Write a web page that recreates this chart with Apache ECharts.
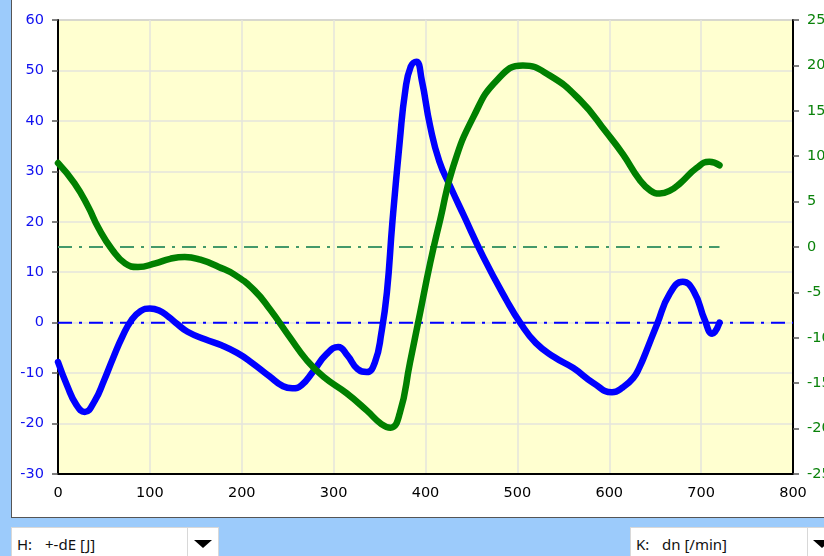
<!DOCTYPE html>
<html>
<head>
<meta charset="utf-8">
<script src="https://cdn.jsdelivr.net/npm/echarts@6/dist/echarts.min.js"></script>
<style>
  html, body { margin: 0; padding: 0; width: 824px; height: 556px; overflow: hidden; background: #9ccbfb; }
  #panel { position: absolute; left: 11px; top: 0; width: 820px; height: 517px; background: #fff; border-left: 1px solid #555; border-bottom: 1px solid #555; }
  #chart { position: absolute; left: 0; top: 0; width: 824px; height: 556px; }
  .dd { position: absolute; top: 527px; height: 32px; background: #fff; border: 1px solid #d8d8d8; font-family: "Noto Sans", sans-serif; font-size: 15px; color: #111; }
  .dd .lab { position: absolute; top: 6px; white-space: pre; }
  .dd .div { position: absolute; top: 0; width: 1px; height: 32px; background: #d8d8d8; }
  .dd .arr { position: absolute; top: 12px; width: 0; height: 0; border-left: 9px solid transparent; border-right: 9px solid transparent; border-top: 8px solid #000; }
</style>
</head>
<body>
<div id="panel"></div>
<div id="chart"></div>
<div class="dd" style="left:11px;width:206px;">
  <span class="lab" style="left:5px;">H:</span><span class="lab" style="left:33px;">+-dE [J]</span>
  <div class="div" style="left:175px;"></div>
  <div class="arr" style="left:182px;"></div>
</div>
<div class="dd" style="left:630px;width:210px;">
  <span class="lab" style="left:5px;">K:</span><span class="lab" style="left:31px;">dn [/min]</span>
  <div class="div" style="left:176px;"></div>
  <div class="arr" style="left:182px;"></div>
</div>
<script>
// Blue series (left axis): +-dE [J]
const blueX = [0, 10, 20, 29, 40, 50, 60, 70, 80, 90, 100, 110, 120, 130, 141, 160, 178, 195, 210, 230, 245, 255, 265, 278, 292, 305, 315, 326, 336, 345, 352, 358, 364, 372, 378, 384, 390, 396, 405, 415, 427, 441, 463, 488, 503, 520, 540, 561, 583, 603, 615, 626, 633, 640, 652, 666, 680, 692, 704, 712, 720];
const blueY = [-7.8, -12.5, -16.3, -17.7, -15.5, -11.5, -7.0, -2.8, 0.5, 2.3, 2.8, 2.4, 1.2, -0.3, -1.8, -3.3, -4.5, -6.0, -7.8, -10.6, -12.6, -13.0, -12.4, -9.6, -6.3, -4.8, -6.5, -9.2, -9.8, -7.8, -2.0, 6.0, 20.0, 36.0, 46.0, 50.8, 51.7, 48.0, 39.0, 32.0, 27.0, 21.5, 13.0, 4.5, 0, -4.0, -6.8, -9.0, -12.0, -13.8, -12.8, -11.0, -8.8, -5.8, -0.3, 5.8, 8.1, 6.2, 0.5, -2.2, 0];
// Green series (right axis): dn [/min]
const greenX = [0, 18, 33, 44, 59, 73, 87, 106, 122, 138, 155, 175, 193, 214, 231, 252, 271, 289, 314, 336, 352, 362, 372, 383, 394, 405, 416, 430, 452, 478, 506, 535, 568, 597, 615, 633, 645, 655, 666, 677, 695, 709, 720];
const greenY = [9.25, 7.0, 4.4, 2.1, -0.3, -1.8, -2.2, -1.8, -1.3, -1.1, -1.4, -2.2, -3.1, -4.8, -6.9, -9.9, -12.5, -14.3, -16.1, -18.0, -19.5, -19.9, -18.3, -12.8, -7.3, -1.8, 3.0, 8.8, 14.3, 18.4, 20.0, 18.9, 16.2, 12.6, 10.2, 7.4, 6.2, 5.9, 6.2, 7.0, 8.7, 9.4, 9.0];
// Zero reference lines
const blueZeroX = [0, 800];
const blueZeroY = [0, 0];
const greenZeroX = [0, 720];
const greenZeroY = [0, 0];
// Axis ranges / ticks
const xTicks = [0, 800, 100];
const leftTicks = [-30, 60, 10];
const rightTicks = [-25, 25, 5];

const pairs = (xs, ys) => xs.map((x, i) => [x, ys[i]]);
const FONT = '"DejaVu Sans", sans-serif';

const chart = echarts.init(document.getElementById('chart'), null, { renderer: 'canvas' });
chart.setOption({
  animation: false,
  backgroundColor: 'transparent',
  grid: { left: 58, right: 31, top: 20, bottom: 82, containLabel: false, outerBoundsMode: 'none', show: true, backgroundColor: '#ffffd0', borderColor: '#666', borderWidth: 1 },
  xAxis: {
    type: 'value', min: xTicks[0], max: xTicks[1], interval: xTicks[2],
    axisLine: { show: true, onZero: false, lineStyle: { color: '#000', width: 2 } },
    axisTick: { show: false },
    axisLabel: { color: '#000', fontSize: 14.5, fontFamily: FONT, margin: 12 },
    splitLine: { show: true, lineStyle: { color: '#e4e4dc', width: 1.5 } }
  },
  yAxis: [
    {
      type: 'value', position: 'left', min: leftTicks[0], max: leftTicks[1], interval: leftTicks[2],
      axisLine: { show: true, onZero: false, lineStyle: { color: '#000', width: 2 } },
      axisTick: { show: true, length: 6, lineStyle: { color: '#555', width: 1.5 } },
      axisLabel: { color: '#1010f0', fontSize: 14.5, fontFamily: FONT, margin: 14 },
      splitLine: { show: true, lineStyle: { color: '#e4e4dc', width: 1.5 } }
    },
    {
      type: 'value', position: 'right', min: rightTicks[0], max: rightTicks[1], interval: rightTicks[2],
      axisLine: { show: true, onZero: false, lineStyle: { color: '#000', width: 2 } },
      axisTick: { show: true, length: 6, lineStyle: { color: '#555', width: 1.5 } },
      axisLabel: { color: '#0a820a', fontSize: 14.5, fontFamily: FONT, margin: 14 },
      splitLine: { show: false }
    }
  ],
  series: [
    {
      type: 'line', yAxisIndex: 1, data: pairs(greenZeroX, greenZeroY), showSymbol: false, silent: true,
      lineStyle: { color: '#44996a', width: 2, type: [14, 7, 3, 7] }
    },
    {
      type: 'line', yAxisIndex: 0, data: pairs(blueZeroX, blueZeroY), showSymbol: false, silent: true,
      lineStyle: { color: '#0000ff', width: 2, type: [14, 7, 3, 7] }
    },
    {
      type: 'line', yAxisIndex: 0, data: pairs(blueX, blueY), showSymbol: false, smooth: 0.5,
      lineStyle: { color: '#0000ff', width: 6.5, cap: 'round', join: 'round' }
    },
    {
      type: 'line', yAxisIndex: 1, data: pairs(greenX, greenY), showSymbol: false, smooth: 0.5,
      lineStyle: { color: '#008000', width: 6.5, cap: 'round', join: 'round' }
    }
  ]
});
</script>
</body>
</html>
